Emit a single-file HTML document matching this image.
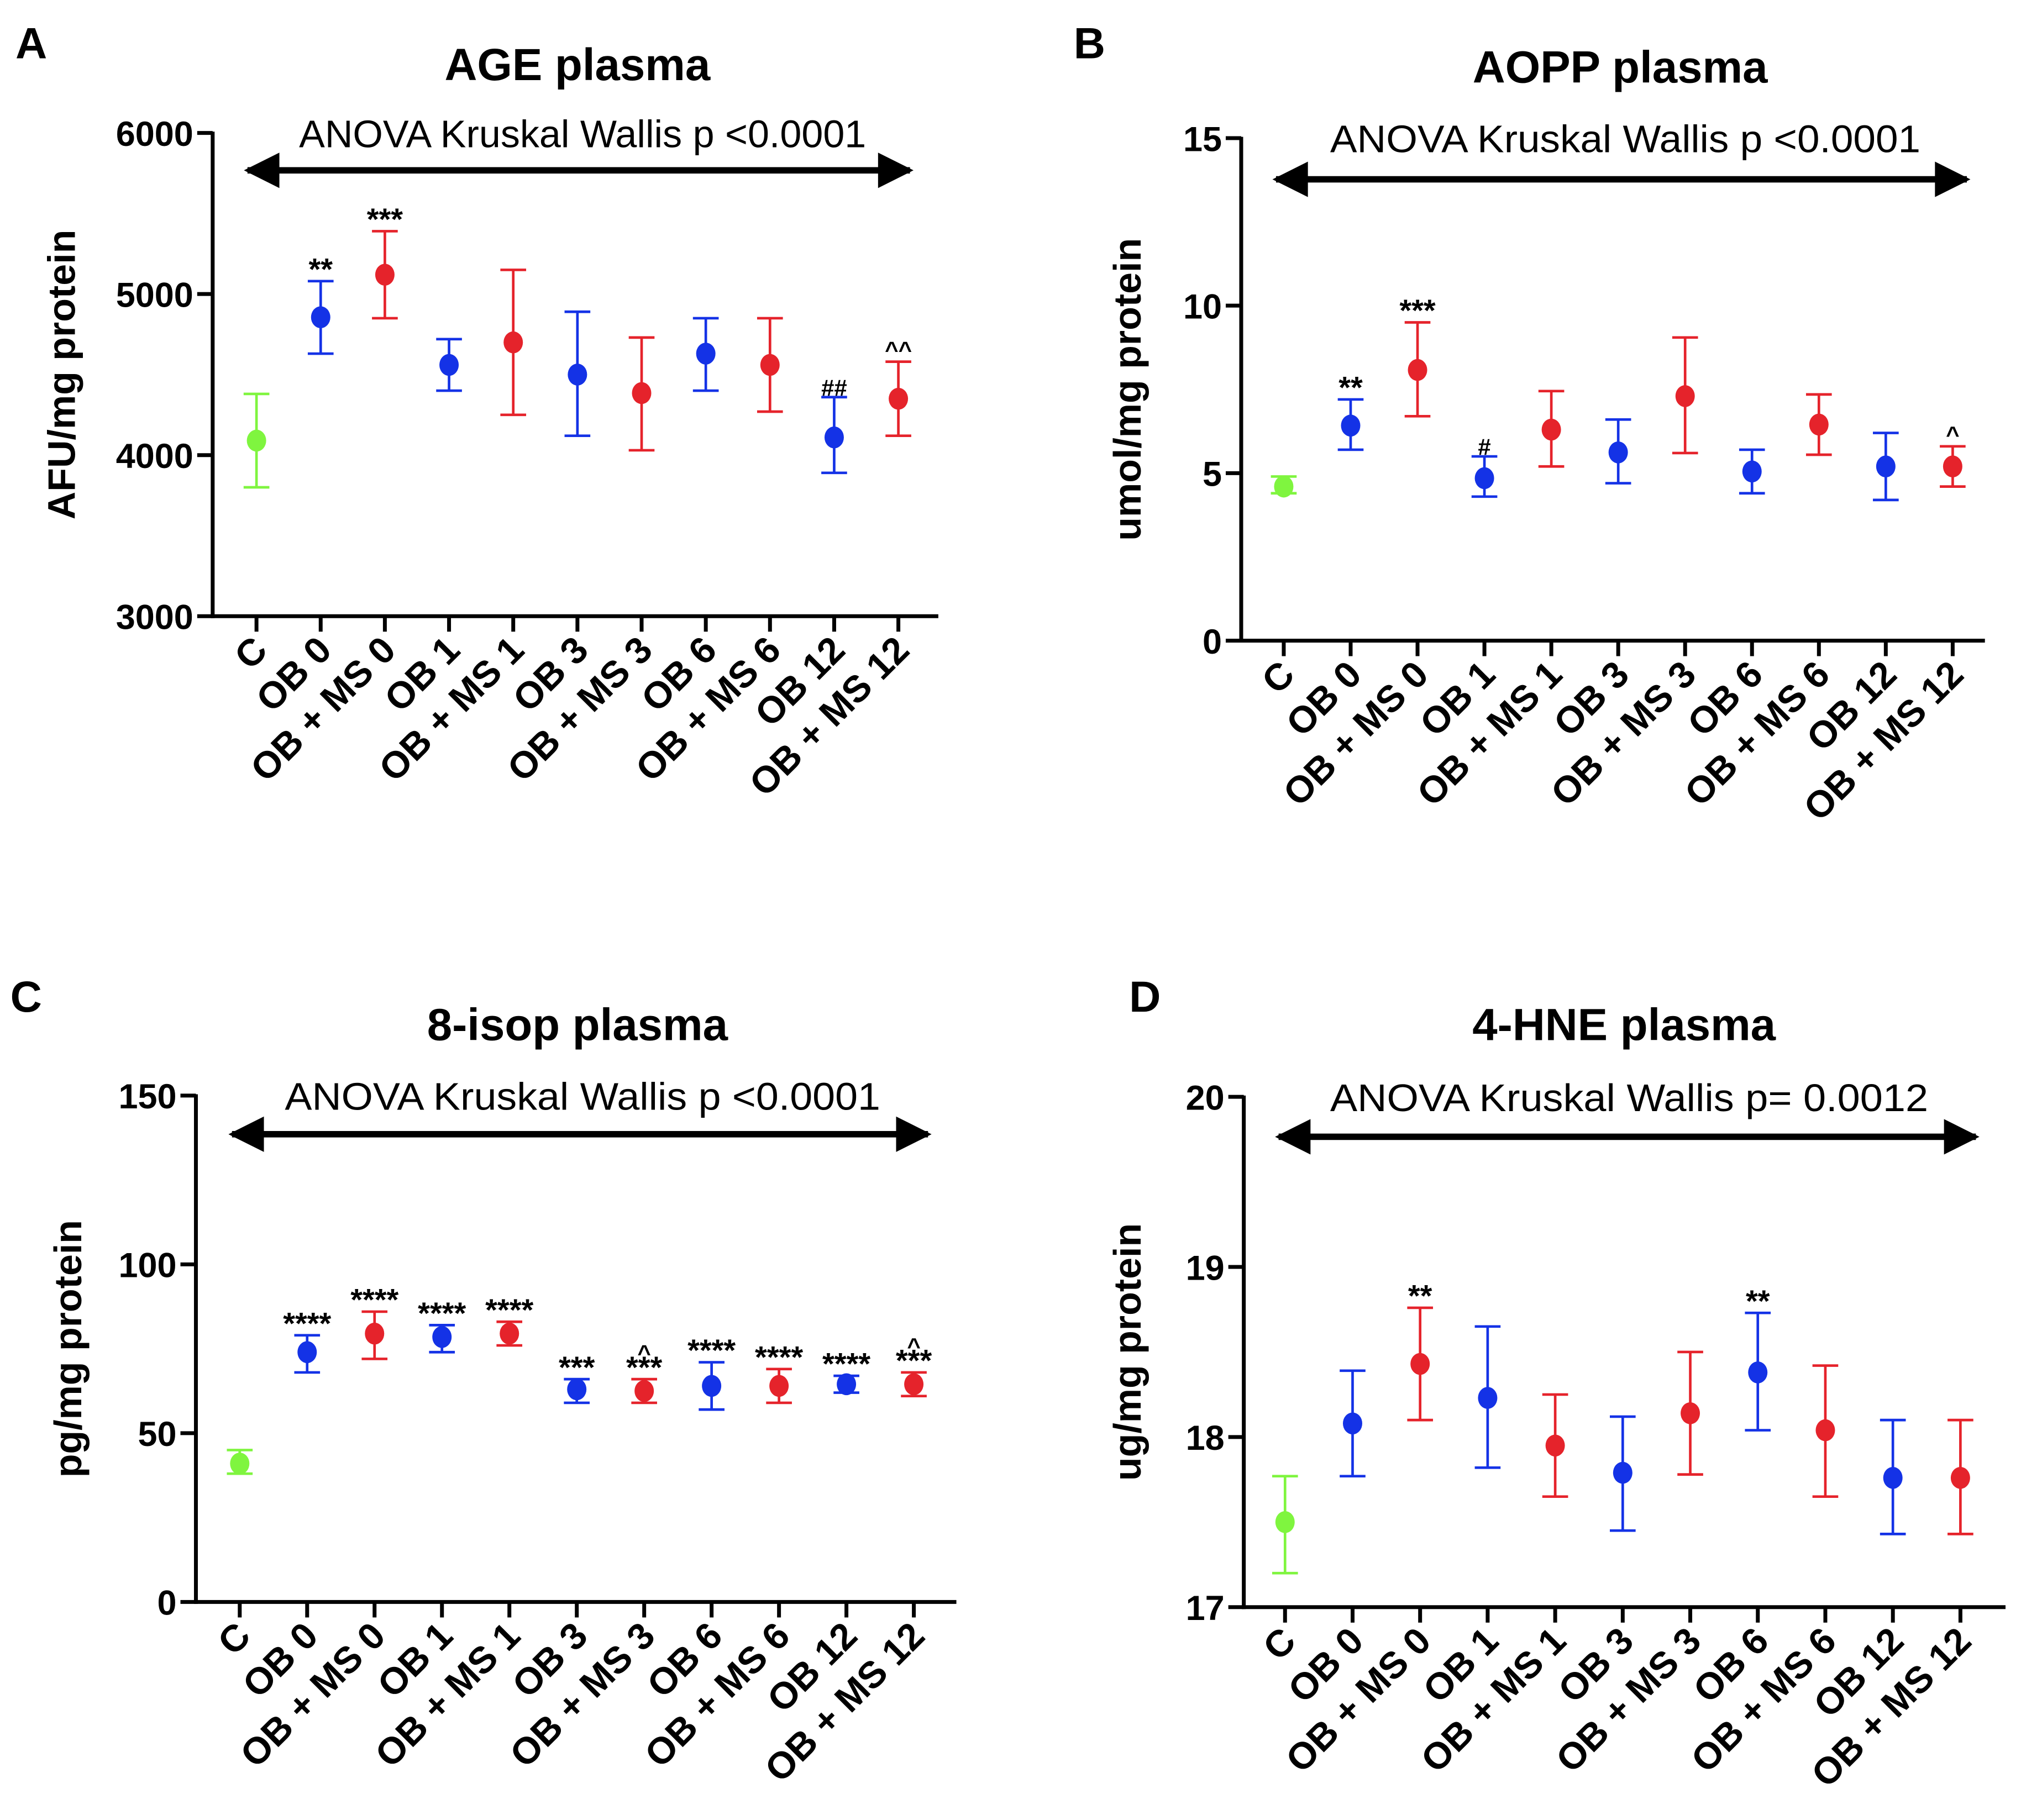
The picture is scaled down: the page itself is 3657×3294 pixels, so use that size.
<!DOCTYPE html>
<html><head><meta charset="utf-8">
<style>
html,body{margin:0;padding:0;background:#fff;}
svg{display:block;}
text{font-family:"Liberation Sans",Arial,sans-serif;fill:#000;}
</style></head>
<body>
<svg id="fig" width="3657" height="3294" viewBox="0 0 1568 1412" xmlns="http://www.w3.org/2000/svg">
<defs>
<marker id="ah" viewBox="0 0 10 10" refX="9" refY="5" markerWidth="6.5" markerHeight="5.5" orient="auto-start-reverse" markerUnits="strokeWidth"><path d="M0,0 L10,5 L0,10 z" fill="#000"/></marker>
</defs>
</svg>
<script>
const categories = ["C","OB 0","OB + MS 0","OB 1","OB + MS 1","OB 3","OB + MS 3","OB 6","OB + MS 6","OB 12","OB + MS 12"];
const groupColors = ["#7ff53f","#1432e6","#e5232b","#1432e6","#e5232b","#1432e6","#e5232b","#1432e6","#e5232b","#1432e6","#e5232b"];

const ageMean = [4090,4856,5120,4560,4700,4500,4385,4630,4560,4110,4350];
const ageLow  = [3800,4630,4850,4400,4250,4120,4030,4400,4270,3890,4120];
const ageHigh = [4380,5080,5390,4720,5150,4890,4730,4850,4850,4360,4580];
const ageTicks = [3000,4000,5000,6000];
const ageMarks = ["","**","***","","","","","","","##","^^"];

const aoppMean = [4.6,6.42,8.08,4.85,6.3,5.62,7.3,5.05,6.45,5.2,5.2];
const aoppLow  = [4.4,5.7,6.7,4.3,5.2,4.7,5.6,4.4,5.55,4.2,4.6];
const aoppHigh = [4.9,7.2,9.5,5.5,7.45,6.6,9.05,5.7,7.35,6.2,5.8];
const aoppTicks = [0,5,10,15];
const aoppMarks = ["","**","***","#","","","","","","","^"];

const isopMean = [41,74,79.5,78.5,79.5,63,62.5,64,64,64.5,64.5];
const isopLow  = [38,68,72,74,76,59,59,57,59,62,61];
const isopHigh = [45,79,86,82,83,66,66,71,69,67,68];
const isopTicks = [0,50,100,150];
const isopMarks = ["","****","****","****","****","***","^\n***","****","****","****","^\n***"];

const hneMean = [17.5,18.08,18.43,18.23,17.95,17.79,18.14,18.38,18.04,17.76,17.76];
const hneLow  = [17.2,17.77,18.1,17.82,17.65,17.45,17.78,18.04,17.65,17.43,17.43];
const hneHigh = [17.77,18.39,18.76,18.65,18.25,18.12,18.5,18.73,18.42,18.1,18.1];
const hneTicks = [17,18,19,20];
const hneMarks = ["","","**","","","","","**","","","",""];

const NS="http://www.w3.org/2000/svg";
const svg=document.getElementById('fig');
function mk(tag,attrs,parent,text){const e=document.createElementNS(NS,tag);for(const k in attrs)e.setAttribute(k,attrs[k]);if(text!==undefined)e.textContent=text;(parent||svg).appendChild(e);return e;}

function panel(cfg){
  const g=mk('g',{});
  
  
  const ymin=cfg.ticks[0], ymax=cfg.ticks[cfg.ticks.length-1];
  const y=v=>cfg.yBot-(v-ymin)/(ymax-ymin)*(cfg.yBot-cfg.yTop);
  const step=(cfg.xEnd-cfg.x0-cfg.firstOff-(cfg.xEnd-cfg.lastX))/(categories.length-1);
  const x=i=>cfg.x0+cfg.firstOff+i*step;
  const L=mk('text',{x:cfg.lx,y:cfg.ly,'font-size':34,'font-weight':'bold'},g,cfg.letter);
  
  
  const T=mk('text',{x:cfg.tx,y:cfg.ty,'font-size':35,'font-weight':'bold','text-anchor':'middle'},g,cfg.title);
  
  
  const A=mk('text',{x:cfg.tx+4,y:cfg.ay,'font-size':30,'text-anchor':'middle',textLength:cfg.aw,lengthAdjust:'spacingAndGlyphs'},g,cfg.anova);
  
  
  const ar=mk('line',{x1:cfg.arx1+2,x2:cfg.arx2-2,y1:cfg.ary,y2:cfg.ary,stroke:'#000','stroke-width':5,'marker-start':'url(#ah)','marker-end':'url(#ah)'},g);
  
  
  const ya=mk('line',{x1:cfg.x0,x2:cfg.x0,y1:cfg.yTop-1,y2:cfg.yBot+1.5,stroke:'#000','stroke-width':3},g);
  
  
  const xa=mk('line',{x1:cfg.x0-1.5,x2:cfg.xEnd,y1:cfg.yBot,y2:cfg.yBot,stroke:'#000','stroke-width':3},g);
  
  
  cfg.ticks.forEach(t=>{
    mk('line',{x1:cfg.x0-12,x2:cfg.x0,y1:y(t),y2:y(t),stroke:'#000','stroke-width':3},g);
    const tl=mk('text',{x:cfg.x0-15,y:y(t)+10,'font-size':27,'font-weight':'bold','text-anchor':'end'},g,String(t));
    
    
  });
  const yl=mk('text',{transform:`translate(${cfg.ylx},${(cfg.yTop+cfg.yBot)/2}) rotate(-90)`,'font-size':30,'font-weight':'bold','text-anchor':'middle'},g,cfg.ylabel);
  
  
  categories.forEach((c,i)=>{
    const xi=x(i);
    mk('line',{x1:xi,x2:xi,y1:cfg.yBot,y2:cfg.yBot+12,stroke:'#000','stroke-width':3},g);
    const cl=mk('text',{transform:`translate(${xi+10},${cfg.yBot+28}) rotate(-45)`,'font-size':29,'font-weight':'bold','text-anchor':'end'},g,c);
    
    
    const col=groupColors[i];
    const eb=mk('g',{},g);
    
    
    mk('line',{x1:xi,x2:xi,y1:y(cfg.low[i]),y2:y(cfg.high[i]),stroke:col,'stroke-width':2},eb);
    mk('line',{x1:xi-10,x2:xi+10,y1:y(cfg.low[i]),y2:y(cfg.low[i]),stroke:col,'stroke-width':2},eb);
    mk('line',{x1:xi-10,x2:xi+10,y1:y(cfg.high[i]),y2:y(cfg.high[i]),stroke:col,'stroke-width':2},eb);
    const pt=mk('ellipse',{cx:xi,cy:y(cfg.mean[i]),rx:7.5,ry:8.5,fill:col},g);
    
    
    const m=cfg.marks[i];
    if(m){
      const lines=m.split('\n');
      const top=y(cfg.high[i])-7;
      lines.forEach((ln,k)=>{
        const off=(lines.length-1-k)*11;
        const sy=ln.startsWith('^')?top-off+4:top-off+6;
        const st=mk('text',{x:xi,y:sy,'font-size':ln[0]==='*'?24:18,'font-weight':'bold','text-anchor':'middle'},g,ln);
        
        
      });
    }
  });
}

panel({name:'panel-a-age',letter:'A',lx:12,ly:45,title:'AGE plasma',tx:448,ty:62,anova:'ANOVA Kruskal Wallis p <0.0001',aw:440,ay:114,arx1:190,arx2:708,ary:132,
  x0:165,xEnd:728,firstOff:34,lastX:697,yTop:103,yBot:478,ticks:ageTicks,ylabel:'AFU/mg protein',ylx:58,
  mean:ageMean,low:ageLow,high:ageHigh,marks:ageMarks});
panel({name:'panel-b-aopp',letter:'B',lx:833,ly:45,title:'AOPP plasma',tx:1257,ty:64,anova:'ANOVA Kruskal Wallis p <0.0001',aw:458,ay:118,arx1:988,arx2:1528,ary:139,
  x0:963,xEnd:1540,firstOff:33,lastX:1515,yTop:107,yBot:497,ticks:aoppTicks,ylabel:'umol/mg protein',ylx:885,
  mean:aoppMean,low:aoppLow,high:aoppHigh,marks:aoppMarks});
panel({name:'panel-c-8isop',letter:'C',lx:8,ly:785,title:'8-isop plasma',tx:448,ty:807,anova:'ANOVA Kruskal Wallis p <0.0001',aw:462,ay:861,arx1:178,arx2:722,ary:880,
  x0:152,xEnd:742,firstOff:34,lastX:709,yTop:850,yBot:1243,ticks:isopTicks,ylabel:'pg/mg protein',ylx:63,
  mean:isopMean,low:isopLow,high:isopHigh,marks:isopMarks});
panel({name:'panel-d-4hne',letter:'D',lx:876,ly:785,title:'4-HNE plasma',tx:1260,ty:807,anova:'ANOVA Kruskal Wallis p= 0.0012',aw:464,ay:862,arx1:990,arx2:1535,ary:882,
  x0:965,xEnd:1556,firstOff:32,lastX:1521,yTop:851,yBot:1247,ticks:hneTicks,ylabel:'ug/mg protein',ylx:885,
  mean:hneMean,low:hneLow,high:hneHigh,marks:hneMarks});
</script>
</body></html>
